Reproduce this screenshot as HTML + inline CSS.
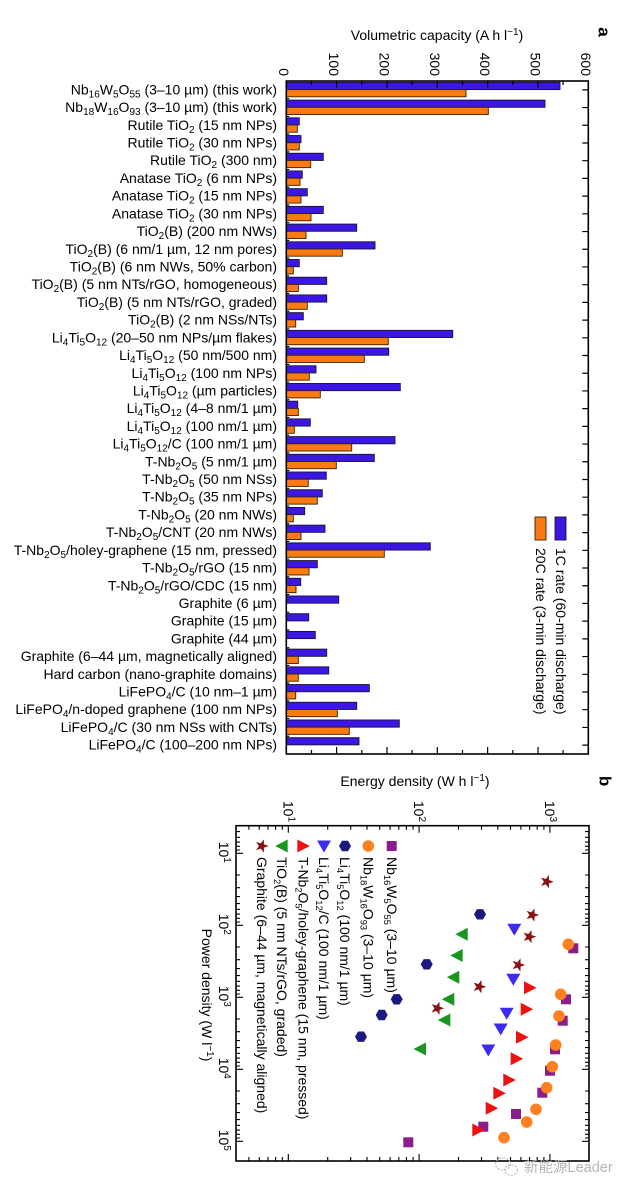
<!DOCTYPE html>
<html><head><meta charset="utf-8">
<style>
html,body{margin:0;padding:0;background:#fff}
svg{display:block}
text{font-family:"Liberation Sans",Arial,sans-serif;font-size:14px;fill:#000}
.s{font-size:10px}
.l{text-anchor:end}
.b{fill:#3c17e4;stroke:#1b1038;stroke-width:0.9}
.o{fill:#fb7b12;stroke:#3a2000;stroke-width:0.9}
.lg{font-size:13.2px}
.lg .s{font-size:9.3px}
</style></head>
<body>
<svg width="638" height="1195" viewBox="0 0 638 1195" xmlns="http://www.w3.org/2000/svg">
<rect x="0" y="0" width="638" height="1195" fill="#fff"/>

<!-- ========== PANEL A ========== -->
<text x="437" y="40" text-anchor="middle">Volumetric capacity (A h l<tspan class="s" dy="-5">−1</tspan><tspan dy="5">)</tspan></text>
<text transform="translate(603,32) rotate(90)" text-anchor="middle" dy="0.27em" style="font-weight:bold;font-size:17px">a</text>

<!-- top tick labels -->
<g text-anchor="end">
<text transform="translate(283.8,76) rotate(90)" dy="0.35em">0</text>
<text transform="translate(334.1,76) rotate(90)" dy="0.35em">100</text>
<text transform="translate(384.5,76) rotate(90)" dy="0.35em">200</text>
<text transform="translate(434.8,76) rotate(90)" dy="0.35em">300</text>
<text transform="translate(485.1,76) rotate(90)" dy="0.35em">400</text>
<text transform="translate(535.5,76) rotate(90)" dy="0.35em">500</text>
<text transform="translate(585.8,76) rotate(90)" dy="0.35em">600</text>
</g>

<!-- bars & labels -->
<g transform="translate(0,81)"><rect class="b" x="286.3" y="1.4" width="273.7" height="7.2"/><rect class="o" x="286.3" y="8.6" width="179.7" height="7.2"/><text class="l" x="277" y="13.4">Nb<tspan class="s" dy="3">16</tspan><tspan dy="-3">W</tspan><tspan class="s" dy="3">5</tspan><tspan dy="-3">O</tspan><tspan class="s" dy="3">55</tspan><tspan dy="-3"> (3–10 µm) (this work)</tspan></text></g>
<g transform="translate(0,98.71)"><rect class="b" x="286.3" y="1.4" width="258.7" height="7.2"/><rect class="o" x="286.3" y="8.6" width="202" height="7.2"/><text class="l" x="277" y="13.4">Nb<tspan class="s" dy="3">18</tspan><tspan dy="-3">W</tspan><tspan class="s" dy="3">16</tspan><tspan dy="-3">O</tspan><tspan class="s" dy="3">93</tspan><tspan dy="-3"> (3–10 µm) (this work)</tspan></text></g>
<g transform="translate(0,116.42)"><rect class="b" x="286.3" y="1.4" width="13" height="7.2"/><rect class="o" x="286.3" y="8.6" width="11" height="7.2"/><text class="l" x="277" y="13.4">Rutile TiO<tspan class="s" dy="3">2</tspan><tspan dy="-3"> (15 nm NPs)</tspan></text></g>
<g transform="translate(0,134.13)"><rect class="b" x="286.3" y="1.4" width="14.7" height="7.2"/><rect class="o" x="286.3" y="8.6" width="13" height="7.2"/><text class="l" x="277" y="13.4">Rutile TiO<tspan class="s" dy="3">2</tspan><tspan dy="-3"> (30 nm NPs)</tspan></text></g>
<g transform="translate(0,151.84)"><rect class="b" x="286.3" y="1.4" width="37" height="7.2"/><rect class="o" x="286.3" y="8.6" width="24.4" height="7.2"/><text class="l" x="277" y="13.4">Rutile TiO<tspan class="s" dy="3">2</tspan><tspan dy="-3"> (300 nm)</tspan></text></g>
<g transform="translate(0,169.55)"><rect class="b" x="286.3" y="1.4" width="16" height="7.2"/><rect class="o" x="286.3" y="8.6" width="13.7" height="7.2"/><text class="l" x="277" y="13.4">Anatase TiO<tspan class="s" dy="3">2</tspan><tspan dy="-3"> (6 nm NPs)</tspan></text></g>
<g transform="translate(0,187.26)"><rect class="b" x="286.3" y="1.4" width="21" height="7.2"/><rect class="o" x="286.3" y="8.6" width="14.7" height="7.2"/><text class="l" x="277" y="13.4">Anatase TiO<tspan class="s" dy="3">2</tspan><tspan dy="-3"> (15 nm NPs)</tspan></text></g>
<g transform="translate(0,204.97)"><rect class="b" x="286.3" y="1.4" width="37" height="7.2"/><rect class="o" x="286.3" y="8.6" width="24.7" height="7.2"/><text class="l" x="277" y="13.4">Anatase TiO<tspan class="s" dy="3">2</tspan><tspan dy="-3"> (30 nm NPs)</tspan></text></g>
<g transform="translate(0,222.68)"><rect class="b" x="286.3" y="1.4" width="70.4" height="7.2"/><rect class="o" x="286.3" y="8.6" width="19.7" height="7.2"/><text class="l" x="277" y="13.4">TiO<tspan class="s" dy="3">2</tspan><tspan dy="-3">(B) (200 nm NWs)</tspan></text></g>
<g transform="translate(0,240.39)"><rect class="b" x="286.3" y="1.4" width="88.7" height="7.2"/><rect class="o" x="286.3" y="8.6" width="56" height="7.2"/><text class="l" x="277" y="13.4">TiO<tspan class="s" dy="3">2</tspan><tspan dy="-3">(B) (6 nm/1 µm, 12 nm pores)</tspan></text></g>
<g transform="translate(0,258.10)"><rect class="b" x="286.3" y="1.4" width="13" height="7.2"/><rect class="o" x="286.3" y="8.6" width="7" height="7.2"/><text class="l" x="277" y="13.4">TiO<tspan class="s" dy="3">2</tspan><tspan dy="-3">(B) (6 nm NWs, 50% carbon)</tspan></text></g>
<g transform="translate(0,275.81)"><rect class="b" x="286.3" y="1.4" width="40.4" height="7.2"/><rect class="o" x="286.3" y="8.6" width="12" height="7.2"/><text class="l" x="277" y="13.4">TiO<tspan class="s" dy="3">2</tspan><tspan dy="-3">(B) (5 nm NTs/rGO, homogeneous)</tspan></text></g>
<g transform="translate(0,293.52)"><rect class="b" x="286.3" y="1.4" width="40.4" height="7.2"/><rect class="o" x="286.3" y="8.6" width="21" height="7.2"/><text class="l" x="277" y="13.4">TiO<tspan class="s" dy="3">2</tspan><tspan dy="-3">(B) (5 nm NTs/rGO, graded)</tspan></text></g>
<g transform="translate(0,311.23)"><rect class="b" x="286.3" y="1.4" width="17" height="7.2"/><rect class="o" x="286.3" y="8.6" width="9.4" height="7.2"/><text class="l" x="277" y="13.4">TiO<tspan class="s" dy="3">2</tspan><tspan dy="-3">(B) (2 nm NSs/NTs)</tspan></text></g>
<g transform="translate(0,328.94)"><rect class="b" x="286.3" y="1.4" width="166.4" height="7.2"/><rect class="o" x="286.3" y="8.6" width="102" height="7.2"/><text class="l" x="277" y="13.4">Li<tspan class="s" dy="3">4</tspan><tspan dy="-3">Ti</tspan><tspan class="s" dy="3">5</tspan><tspan dy="-3">O</tspan><tspan class="s" dy="3">12</tspan><tspan dy="-3"> (20–50 nm NPs/µm flakes)</tspan></text></g>
<g transform="translate(0,346.65)"><rect class="b" x="286.3" y="1.4" width="102.4" height="7.2"/><rect class="o" x="286.3" y="8.6" width="78" height="7.2"/><text class="l" x="277" y="13.4">Li<tspan class="s" dy="3">4</tspan><tspan dy="-3">Ti</tspan><tspan class="s" dy="3">5</tspan><tspan dy="-3">O</tspan><tspan class="s" dy="3">12</tspan><tspan dy="-3"> (50 nm/500 nm)</tspan></text></g>
<g transform="translate(0,364.36)"><rect class="b" x="286.3" y="1.4" width="29.7" height="7.2"/><rect class="o" x="286.3" y="8.6" width="23" height="7.2"/><text class="l" x="277" y="13.4">Li<tspan class="s" dy="3">4</tspan><tspan dy="-3">Ti</tspan><tspan class="s" dy="3">5</tspan><tspan dy="-3">O</tspan><tspan class="s" dy="3">12</tspan><tspan dy="-3"> (100 nm NPs)</tspan></text></g>
<g transform="translate(0,382.07)"><rect class="b" x="286.3" y="1.4" width="114" height="7.2"/><rect class="o" x="286.3" y="8.6" width="34" height="7.2"/><text class="l" x="277" y="13.4">Li<tspan class="s" dy="3">4</tspan><tspan dy="-3">Ti</tspan><tspan class="s" dy="3">5</tspan><tspan dy="-3">O</tspan><tspan class="s" dy="3">12</tspan><tspan dy="-3"> (µm particles)</tspan></text></g>
<g transform="translate(0,399.78)"><rect class="b" x="286.3" y="1.4" width="11.4" height="7.2"/><rect class="o" x="286.3" y="8.6" width="12" height="7.2"/><text class="l" x="277" y="13.4">Li<tspan class="s" dy="3">4</tspan><tspan dy="-3">Ti</tspan><tspan class="s" dy="3">5</tspan><tspan dy="-3">O</tspan><tspan class="s" dy="3">12</tspan><tspan dy="-3"> (4–8 nm/1 µm)</tspan></text></g>
<g transform="translate(0,417.49)"><rect class="b" x="286.3" y="1.4" width="24" height="7.2"/><rect class="o" x="286.3" y="8.6" width="8" height="7.2"/><text class="l" x="277" y="13.4">Li<tspan class="s" dy="3">4</tspan><tspan dy="-3">Ti</tspan><tspan class="s" dy="3">5</tspan><tspan dy="-3">O</tspan><tspan class="s" dy="3">12</tspan><tspan dy="-3"> (100 nm/1 µm)</tspan></text></g>
<g transform="translate(0,435.20)"><rect class="b" x="286.3" y="1.4" width="108.7" height="7.2"/><rect class="o" x="286.3" y="8.6" width="65.4" height="7.2"/><text class="l" x="277" y="13.4">Li<tspan class="s" dy="3">4</tspan><tspan dy="-3">Ti</tspan><tspan class="s" dy="3">5</tspan><tspan dy="-3">O</tspan><tspan class="s" dy="3">12</tspan><tspan dy="-3">/C (100 nm/1 µm)</tspan></text></g>
<g transform="translate(0,452.91)"><rect class="b" x="286.3" y="1.4" width="88" height="7.2"/><rect class="o" x="286.3" y="8.6" width="50" height="7.2"/><text class="l" x="277" y="13.4">T-Nb<tspan class="s" dy="3">2</tspan><tspan dy="-3">O</tspan><tspan class="s" dy="3">5</tspan><tspan dy="-3"> (5 nm/1 µm)</tspan></text></g>
<g transform="translate(0,470.62)"><rect class="b" x="286.3" y="1.4" width="40" height="7.2"/><rect class="o" x="286.3" y="8.6" width="22" height="7.2"/><text class="l" x="277" y="13.4">T-Nb<tspan class="s" dy="3">2</tspan><tspan dy="-3">O</tspan><tspan class="s" dy="3">5</tspan><tspan dy="-3"> (50 nm NSs)</tspan></text></g>
<g transform="translate(0,488.33)"><rect class="b" x="286.3" y="1.4" width="36" height="7.2"/><rect class="o" x="286.3" y="8.6" width="31" height="7.2"/><text class="l" x="277" y="13.4">T-Nb<tspan class="s" dy="3">2</tspan><tspan dy="-3">O</tspan><tspan class="s" dy="3">5</tspan><tspan dy="-3"> (35 nm NPs)</tspan></text></g>
<g transform="translate(0,506.04)"><rect class="b" x="286.3" y="1.4" width="18.4" height="7.2"/><rect class="o" x="286.3" y="8.6" width="7" height="7.2"/><text class="l" x="277" y="13.4">T-Nb<tspan class="s" dy="3">2</tspan><tspan dy="-3">O</tspan><tspan class="s" dy="3">5</tspan><tspan dy="-3"> (20 nm NWs)</tspan></text></g>
<g transform="translate(0,523.75)"><rect class="b" x="286.3" y="1.4" width="38.7" height="7.2"/><rect class="o" x="286.3" y="8.6" width="14.7" height="7.2"/><text class="l" x="277" y="13.4">T-Nb<tspan class="s" dy="3">2</tspan><tspan dy="-3">O</tspan><tspan class="s" dy="3">5</tspan><tspan dy="-3">/CNT (20 nm NWs)</tspan></text></g>
<g transform="translate(0,541.46)"><rect class="b" x="286.3" y="1.4" width="144" height="7.2"/><rect class="o" x="286.3" y="8.6" width="98" height="7.2"/><text class="l" x="277" y="13.4">T-Nb<tspan class="s" dy="3">2</tspan><tspan dy="-3">O</tspan><tspan class="s" dy="3">5</tspan><tspan dy="-3">/holey-graphene (15 nm, pressed)</tspan></text></g>
<g transform="translate(0,559.17)"><rect class="b" x="286.3" y="1.4" width="31" height="7.2"/><rect class="o" x="286.3" y="8.6" width="22.7" height="7.2"/><text class="l" x="277" y="13.4">T-Nb<tspan class="s" dy="3">2</tspan><tspan dy="-3">O</tspan><tspan class="s" dy="3">5</tspan><tspan dy="-3">/rGO (15 nm)</tspan></text></g>
<g transform="translate(0,576.88)"><rect class="b" x="286.3" y="1.4" width="14.4" height="7.2"/><rect class="o" x="286.3" y="8.6" width="9.7" height="7.2"/><text class="l" x="277" y="13.4">T-Nb<tspan class="s" dy="3">2</tspan><tspan dy="-3">O</tspan><tspan class="s" dy="3">5</tspan><tspan dy="-3">/rGO/CDC (15 nm)</tspan></text></g>
<g transform="translate(0,594.59)"><rect class="b" x="286.3" y="1.4" width="52.4" height="7.2"/><text class="l" x="277" y="13.4">Graphite (6 µm)</text></g>
<g transform="translate(0,612.30)"><rect class="b" x="286.3" y="1.4" width="22.4" height="7.2"/><text class="l" x="277" y="13.4">Graphite (15 µm)</text></g>
<g transform="translate(0,630.01)"><rect class="b" x="286.3" y="1.4" width="29" height="7.2"/><text class="l" x="277" y="13.4">Graphite (44 µm)</text></g>
<g transform="translate(0,647.72)"><rect class="b" x="286.3" y="1.4" width="40.4" height="7.2"/><rect class="o" x="286.3" y="8.6" width="12" height="7.2"/><text class="l" x="277" y="13.4">Graphite (6–44 µm, magnetically aligned)</text></g>
<g transform="translate(0,665.43)"><rect class="b" x="286.3" y="1.4" width="42.4" height="7.2"/><rect class="o" x="286.3" y="8.6" width="12" height="7.2"/><text class="l" x="277" y="13.4">Hard carbon (nano-graphite domains)</text></g>
<g transform="translate(0,683.14)"><rect class="b" x="286.3" y="1.4" width="83" height="7.2"/><rect class="o" x="286.3" y="8.6" width="9.4" height="7.2"/><text class="l" x="277" y="13.4">LiFePO<tspan class="s" dy="3">4</tspan><tspan dy="-3">/C (10 nm–1 µm)</tspan></text></g>
<g transform="translate(0,700.85)"><rect class="b" x="286.3" y="1.4" width="70.4" height="7.2"/><rect class="o" x="286.3" y="8.6" width="51" height="7.2"/><text class="l" x="277" y="13.4">LiFePO<tspan class="s" dy="3">4</tspan><tspan dy="-3">/n-doped graphene (100 nm NPs)</tspan></text></g>
<g transform="translate(0,718.56)"><rect class="b" x="286.3" y="1.4" width="113" height="7.2"/><rect class="o" x="286.3" y="8.6" width="63" height="7.2"/><text class="l" x="277" y="13.4">LiFePO<tspan class="s" dy="3">4</tspan><tspan dy="-3">/C (30 nm NSs with CNTs)</tspan></text></g>
<g transform="translate(0,736.27)"><rect class="b" x="286.3" y="1.4" width="72.7" height="7.2"/><text class="l" x="277" y="13.4">LiFePO<tspan class="s" dy="3">4</tspan><tspan dy="-3">/C (100–200 nm NPs)</tspan></text></g>

<!-- frame & ticks panel a -->
<rect x="286.3" y="81" width="302" height="673" fill="none" stroke="#000" stroke-width="1.6"/>
<path stroke="#000" stroke-width="1.2" fill="none" d="
M311.5 81v4 M336.6 81v7 M361.8 81v4 M387 81v7 M412.1 81v4 M437.3 81v7 M462.5 81v4 M487.6 81v7 M512.8 81v4 M538 81v7 M563.1 81v4
M311.5 754v-4 M336.6 754v-7 M361.8 754v-4 M387 754v-7 M412.1 754v-4 M437.3 754v-7 M462.5 754v-4 M487.6 754v-7 M512.8 754v-4 M538 754v-7 M563.1 754v-4
M588.3 89.86h-6 M588.3 107.57h-6 M588.3 125.28h-6 M588.3 142.99h-6 M588.3 160.7h-6 M588.3 178.41h-6 M588.3 196.12h-6 M588.3 213.83h-6 M588.3 231.54h-6 M588.3 249.25h-6 M588.3 266.96h-6 M588.3 284.67h-6 M588.3 302.38h-6 M588.3 320.09h-6 M588.3 337.8h-6 M588.3 355.51h-6 M588.3 373.22h-6 M588.3 390.93h-6 M588.3 408.64h-6 M588.3 426.35h-6 M588.3 444.06h-6 M588.3 461.77h-6 M588.3 479.48h-6 M588.3 497.19h-6 M588.3 514.9h-6 M588.3 532.61h-6 M588.3 550.32h-6 M588.3 568.03h-6 M588.3 585.74h-6 M588.3 603.45h-6 M588.3 621.16h-6 M588.3 638.87h-6 M588.3 656.58h-6 M588.3 674.29h-6 M588.3 692h-6 M588.3 709.71h-6 M588.3 727.42h-6 M588.3 745.13h-6
M286.3 98.71h3 M286.3 116.42h3 M286.3 134.13h3 M286.3 151.84h3 M286.3 169.55h3 M286.3 187.26h3 M286.3 204.97h3 M286.3 222.68h3 M286.3 240.39h3 M286.3 258.1h3 M286.3 275.81h3 M286.3 293.52h3 M286.3 311.23h3 M286.3 328.94h3 M286.3 346.65h3 M286.3 364.36h3 M286.3 382.07h3 M286.3 399.78h3 M286.3 417.49h3 M286.3 435.2h3 M286.3 452.91h3 M286.3 470.62h3 M286.3 488.33h3 M286.3 506.04h3 M286.3 523.75h3 M286.3 541.46h3 M286.3 559.17h3 M286.3 576.88h3 M286.3 594.59h3 M286.3 612.3h3 M286.3 630.01h3 M286.3 647.72h3 M286.3 665.43h3 M286.3 683.14h3 M286.3 700.85h3 M286.3 718.56h3 M286.3 736.27h3"/>

<!-- legend panel a -->
<rect class="b" x="555" y="517" width="11" height="23"/>
<rect class="o" x="535" y="517" width="11" height="23"/>
<text transform="translate(560.5,548) rotate(90)" dy="0.33em">1C rate (60-min discharge)</text>
<text transform="translate(540.5,548) rotate(90)" dy="0.33em">20C rate (3-min discharge)</text>

<!-- ========== PANEL B ========== -->
<text x="415" y="786" text-anchor="middle">Energy density (W h l<tspan class="s" dy="-5">−1</tspan><tspan dy="5">)</tspan></text>
<text transform="translate(605,781) rotate(90)" text-anchor="middle" dy="0.33em" style="font-weight:bold;font-size:17px">b</text>

<g text-anchor="end">
<text transform="translate(288.3,822) rotate(90)" dy="0.35em">10<tspan class="s" dy="-5">1</tspan></text>
<text transform="translate(419.1,822) rotate(90)" dy="0.35em">10<tspan class="s" dy="-5">2</tspan></text>
<text transform="translate(549.9,822) rotate(90)" dy="0.35em">10<tspan class="s" dy="-5">3</tspan></text>
</g>
<g text-anchor="middle">
<text transform="translate(224,852.3) rotate(90)" dy="0.35em">10<tspan class="s" dy="-5">1</tspan></text>
<text transform="translate(224,924.3) rotate(90)" dy="0.35em">10<tspan class="s" dy="-5">2</tspan></text>
<text transform="translate(224,996.3) rotate(90)" dy="0.35em">10<tspan class="s" dy="-5">3</tspan></text>
<text transform="translate(224,1068.3) rotate(90)" dy="0.35em">10<tspan class="s" dy="-5">4</tspan></text>
<text transform="translate(224,1140.3) rotate(90)" dy="0.35em">10<tspan class="s" dy="-5">5</tspan></text>
<text transform="translate(207,995) rotate(90)" dy="0.35em">Power density (W l<tspan class="s" dy="-5">−1</tspan><tspan dy="5">)</tspan></text>
</g>

<rect x="236" y="825.7" width="353" height="335.3" fill="none" stroke="#000" stroke-width="1.6"/>
<path stroke="#000" stroke-width="1.1" fill="none" d="
M248.9 825.7v4 M259.3 825.7v4 M268 825.7v4 M275.6 825.7v4 M282.3 825.7v4 M288.3 825.7v7 M327.7 825.7v4 M350.7 825.7v4 M367 825.7v4 M379.7 825.7v4 M390.1 825.7v4 M398.8 825.7v4 M406.4 825.7v4 M413.1 825.7v4 M419.1 825.7v7 M458.5 825.7v4 M481.5 825.7v4 M497.8 825.7v4 M510.5 825.7v4 M520.9 825.7v4 M529.6 825.7v4 M537.2 825.7v4 M543.9 825.7v4 M549.9 825.7v7
M248.9 1161v-4 M259.3 1161v-4 M268 1161v-4 M275.6 1161v-4 M282.3 1161v-4 M288.3 1161v-7 M327.7 1161v-4 M350.7 1161v-4 M367 1161v-4 M379.7 1161v-4 M390.1 1161v-4 M398.8 1161v-4 M406.4 1161v-4 M413.1 1161v-4 M419.1 1161v-7 M458.5 1161v-4 M481.5 1161v-4 M497.8 1161v-4 M510.5 1161v-4 M520.9 1161v-4 M529.6 1161v-4 M537.2 1161v-4 M543.9 1161v-4 M549.9 1161v-7
M236 831.6h4 M236 837.3h4 M236 842.1h4 M236 846.3h4 M236 850h4 M236 853.3h7 M236 875h4 M236 887.7h4 M236 896.6h4 M236 903.6h4 M236 909.3h4 M236 914.1h4 M236 918.3h4 M236 922h4 M236 925.3h7 M236 947h4 M236 959.7h4 M236 968.6h4 M236 975.6h4 M236 981.3h4 M236 986.1h4 M236 990.3h4 M236 994h4 M236 997.3h7 M236 1019h4 M236 1031.7h4 M236 1040.6h4 M236 1047.6h4 M236 1053.3h4 M236 1058.1h4 M236 1062.3h4 M236 1066h4 M236 1069.3h7 M236 1091h4 M236 1103.7h4 M236 1112.6h4 M236 1119.6h4 M236 1125.3h4 M236 1130.1h4 M236 1134.3h4 M236 1138h4 M236 1141.3h7
M589 831.6h-4 M589 837.3h-4 M589 842.1h-4 M589 846.3h-4 M589 850h-4 M589 853.3h-7 M589 875h-4 M589 887.7h-4 M589 896.6h-4 M589 903.6h-4 M589 909.3h-4 M589 914.1h-4 M589 918.3h-4 M589 922h-4 M589 925.3h-7 M589 947h-4 M589 959.7h-4 M589 968.6h-4 M589 975.6h-4 M589 981.3h-4 M589 986.1h-4 M589 990.3h-4 M589 994h-4 M589 997.3h-7 M589 1019h-4 M589 1031.7h-4 M589 1040.6h-4 M589 1047.6h-4 M589 1053.3h-4 M589 1058.1h-4 M589 1062.3h-4 M589 1066h-4 M589 1069.3h-7 M589 1091h-4 M589 1103.7h-4 M589 1112.6h-4 M589 1119.6h-4 M589 1125.3h-4 M589 1130.1h-4 M589 1134.3h-4 M589 1138h-4 M589 1141.3h-7"/>

<defs>
<rect id="sq" x="-5" y="-5" width="10" height="10" fill="#8b1c8b"/>
<circle id="ci" r="5.8" fill="#ff8020"/>
<polygon id="hx" points="6,0 3,5.2 -3,5.2 -6,0 -3,-5.2 3,-5.2" fill="#1c1a80"/>
<polygon id="dt" points="-7,-5.5 7,-5.5 0,6.5" fill="#3d2cf0"/>
<polygon id="rt" points="-6,-6.5 -6,6.5 6.5,0" fill="#ee1111"/>
<polygon id="lt" points="6,-6.5 6,6.5 -6.5,0" fill="#1a9620"/>
<polygon id="st" points="7,0 2.265,1.646 2.163,6.657 -0.865,2.663 -5.663,4.114 -2.8,0 -5.663,-4.114 -0.865,-2.663 2.163,-6.657 2.265,-1.646" fill="#8b1212"/>
</defs>

<!-- legend panel b -->
<use href="#sq" x="391.7" y="846"/>
<use href="#ci" x="368.3" y="846"/>
<use href="#hx" x="345" y="846"/>
<use href="#dt" x="324" y="846"/>
<use href="#rt" x="303.3" y="846"/>
<use href="#lt" x="281.7" y="846"/>
<use href="#st" x="261.7" y="846"/>
<g class="lg">
<text transform="translate(391.7,857) rotate(90)" dy="0.35em">Nb<tspan class="s" dy="3">16</tspan><tspan dy="-3">W</tspan><tspan class="s" dy="3">5</tspan><tspan dy="-3">O</tspan><tspan class="s" dy="3">55</tspan><tspan dy="-3"> (3–10 µm)</tspan></text>
<text transform="translate(368.3,857) rotate(90)" dy="0.35em">Nb<tspan class="s" dy="3">18</tspan><tspan dy="-3">W</tspan><tspan class="s" dy="3">16</tspan><tspan dy="-3">O</tspan><tspan class="s" dy="3">93</tspan><tspan dy="-3"> (3–10 µm)</tspan></text>
<text transform="translate(345,857) rotate(90)" dy="0.35em">Li<tspan class="s" dy="3">4</tspan><tspan dy="-3">Ti</tspan><tspan class="s" dy="3">5</tspan><tspan dy="-3">O</tspan><tspan class="s" dy="3">12</tspan><tspan dy="-3"> (100 nm/1 µm)</tspan></text>
<text transform="translate(324,857) rotate(90)" dy="0.35em">Li<tspan class="s" dy="3">4</tspan><tspan dy="-3">Ti</tspan><tspan class="s" dy="3">5</tspan><tspan dy="-3">O</tspan><tspan class="s" dy="3">12</tspan><tspan dy="-3">/C (100 nm/1 µm)</tspan></text>
<text transform="translate(303.3,857) rotate(90)" dy="0.35em">T-Nb<tspan class="s" dy="3">2</tspan><tspan dy="-3">O</tspan><tspan class="s" dy="3">5</tspan><tspan dy="-3">/holey-graphene (15 nm, pressed)</tspan></text>
<text transform="translate(281.7,857) rotate(90)" dy="0.35em">TiO<tspan class="s" dy="3">2</tspan><tspan dy="-3">(B) (5 nm NTs/rGO, graded)</tspan></text>
<text transform="translate(261.7,857) rotate(90)" dy="0.35em">Graphite (6–44 µm, magnetically aligned)</text>
</g>

<!-- data: squares -->
<use href="#sq" x="573.3" y="948.3"/>
<use href="#sq" x="566" y="999.3"/>
<use href="#sq" x="562.7" y="1020.7"/>
<use href="#sq" x="555" y="1049.3"/>
<use href="#sq" x="550" y="1070.7"/>
<use href="#sq" x="542.3" y="1092.7"/>
<use href="#sq" x="516" y="1114"/>
<use href="#sq" x="483.3" y="1126.7"/>
<use href="#sq" x="408.3" y="1142.3"/>
<!-- circles -->
<use href="#ci" x="568.3" y="944.3"/>
<use href="#ci" x="560.7" y="994.3"/>
<use href="#ci" x="559" y="1016"/>
<use href="#ci" x="555.7" y="1045"/>
<use href="#ci" x="552.3" y="1066.7"/>
<use href="#ci" x="546.7" y="1087.7"/>
<use href="#ci" x="536" y="1109.3"/>
<use href="#ci" x="526.7" y="1122"/>
<use href="#ci" x="504" y="1137.7"/>
<!-- hexagons -->
<use href="#hx" x="480" y="914.3"/>
<use href="#hx" x="426.7" y="964.3"/>
<use href="#hx" x="396.7" y="999.3"/>
<use href="#hx" x="381.7" y="1015"/>
<use href="#hx" x="361" y="1036.7"/>
<!-- blue down triangles -->
<use href="#dt" x="514.3" y="929.3"/>
<use href="#dt" x="513.3" y="979.3"/>
<use href="#dt" x="506.7" y="1013.3"/>
<use href="#dt" x="500.7" y="1029"/>
<use href="#dt" x="488.3" y="1050"/>
<!-- green left triangles -->
<use href="#lt" x="461.7" y="934.3"/>
<use href="#lt" x="456.7" y="955.5"/>
<use href="#lt" x="453.3" y="977.3"/>
<use href="#lt" x="448.3" y="999.3"/>
<use href="#lt" x="444.3" y="1020"/>
<use href="#lt" x="420" y="1049"/>
<!-- red right triangles -->
<use href="#rt" x="530" y="987.7"/>
<use href="#rt" x="526.7" y="1009.3"/>
<use href="#rt" x="522" y="1037.3"/>
<use href="#rt" x="516.7" y="1058.7"/>
<use href="#rt" x="509.3" y="1080"/>
<use href="#rt" x="499.3" y="1093.3"/>
<use href="#rt" x="491.7" y="1108.3"/>
<use href="#rt" x="478.3" y="1130"/>
<!-- stars -->
<use href="#st" x="546.7" y="881.7"/>
<use href="#st" x="532.3" y="915"/>
<use href="#st" x="529.3" y="936.7"/>
<use href="#st" x="518.3" y="965"/>
<use href="#st" x="479.3" y="986.7"/>
<use href="#st" x="437.3" y="1008.3"/>

<!-- watermark -->
<g fill="none" stroke="#bdbdbd" stroke-width="1.2" stroke-dasharray="2 1.5">
<ellipse cx="503" cy="1164" rx="7.5" ry="6"/>
<ellipse cx="511" cy="1170" rx="6.5" ry="5.2"/>
</g>
<text x="524" y="1172" style="font-family:'Liberation Sans','Noto Sans CJK SC',sans-serif;font-size:14.5px;fill:#b5b5b5">新能源Leader</text>
</svg>
</body></html>
